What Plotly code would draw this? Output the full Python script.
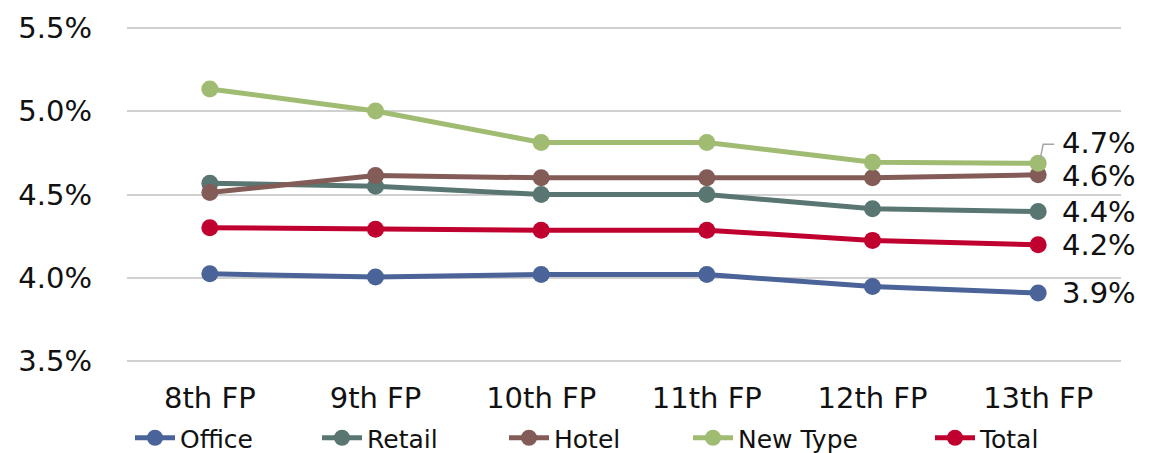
import plotly.graph_objects as go

periods = ["8th FP", "9th FP", "10th FP", "11th FP", "12th FP", "13th FP"]

office = [4.025, 4.005, 4.020, 4.020, 3.949, 3.909]
retail = [4.568, 4.550, 4.500, 4.500, 4.414, 4.398]
hotel = [4.512, 4.614, 4.600, 4.600, 4.600, 4.618]
new_type = [5.133, 5.000, 4.812, 4.812, 4.693, 4.687]
total = [4.301, 4.292, 4.286, 4.286, 4.225, 4.199]

series = [
    ("Office", office, "#4A6399"),
    ("Retail", retail, "#5A7672"),
    ("Hotel", hotel, "#835C57"),
    ("New Type", new_type, "#A0BC72"),
    ("Total", total, "#C0002F"),
]

# per-series vertical nudge (px) of the end-of-line value label
label_shift = {"Office": 0, "Retail": 0, "Hotel": -1, "New Type": 20, "Total": 0}

FONT = "DejaVu Sans"
W, H = 1165, 453
ML, MR, MT, MB = 127, 44, 26, 90
plot_w = W - ML - MR
plot_h = H - MT - MB

# legend entry anchor positions in page pixels
legend_px = [130, 317, 504, 688, 930]
legend_y_px = 438

fig = go.Figure()
for i, (name, vals, color) in enumerate(series):
    lg = "legend" if i == 0 else f"legend{i + 1}"
    fig.add_trace(go.Scatter(
        x=periods, y=vals, name=name, mode="lines+markers",
        line=dict(color=color, width=5),
        marker=dict(color=color, size=17),
        legend=lg,
    ))
    fig.add_annotation(
        x=periods[-1], y=vals[-1], text=f"{vals[-1]:.1f}%",
        xref="x", yref="y", xanchor="left", yanchor="middle",
        xshift=22, yshift=label_shift[name], showarrow=False,
        font=dict(family=FONT, size=29, color="#111111"),
    )

# leader line for the shifted New Type label
fig.add_shape(
    type="path", xref="x", yref="y",
    xsizemode="pixel", ysizemode="pixel",
    xanchor=periods[-1], yanchor=new_type[-1],
    path="M 2,4 L 5,19 L 16,19",
    line=dict(color="#A6A6A6", width=1.5),
)

legend_layout = {}
for i, px in enumerate(legend_px):
    key = "legend" if i == 0 else f"legend{i + 1}"
    legend_layout[key] = dict(
        x=(px - ML) / plot_w, y=-(legend_y_px - (H - MB)) / plot_h,
        xanchor="left", yanchor="middle", orientation="h",
        font=dict(family=FONT, size=25, color="#111111"),
        bgcolor="rgba(0,0,0,0)", itemwidth=40,
        tracegroupgap=0,
    )

fig.update_layout(
    width=W, height=H,
    margin=dict(l=ML, r=MR, t=MT, b=MB, autoexpand=False),
    paper_bgcolor="white", plot_bgcolor="white",
    font=dict(family=FONT, size=26, color="#111111"),
    xaxis=dict(
        type="category", range=[-0.5, 5.5], showgrid=False, zeroline=False,
        showline=False, ticks="", ticklabelstandoff=15, automargin=False,
        tickfont=dict(family=FONT, size=29, color="#111111"),
    ),
    yaxis=dict(
        range=[3.49, 5.51], tickvals=[3.5, 4.0, 4.5, 5.0, 5.5],
        ticktext=["3.5%", "4.0%", "4.5%", "5.0%", "5.5%"],
        showgrid=True, gridcolor="#D0D0D0", gridwidth=2,
        zeroline=False, showline=False, ticks="", ticklabelstandoff=34,
        automargin=False,
        tickfont=dict(family=FONT, size=29, color="#111111"),
    ),
    showlegend=True,
    **legend_layout,
)

fig.write_html("out.html")
